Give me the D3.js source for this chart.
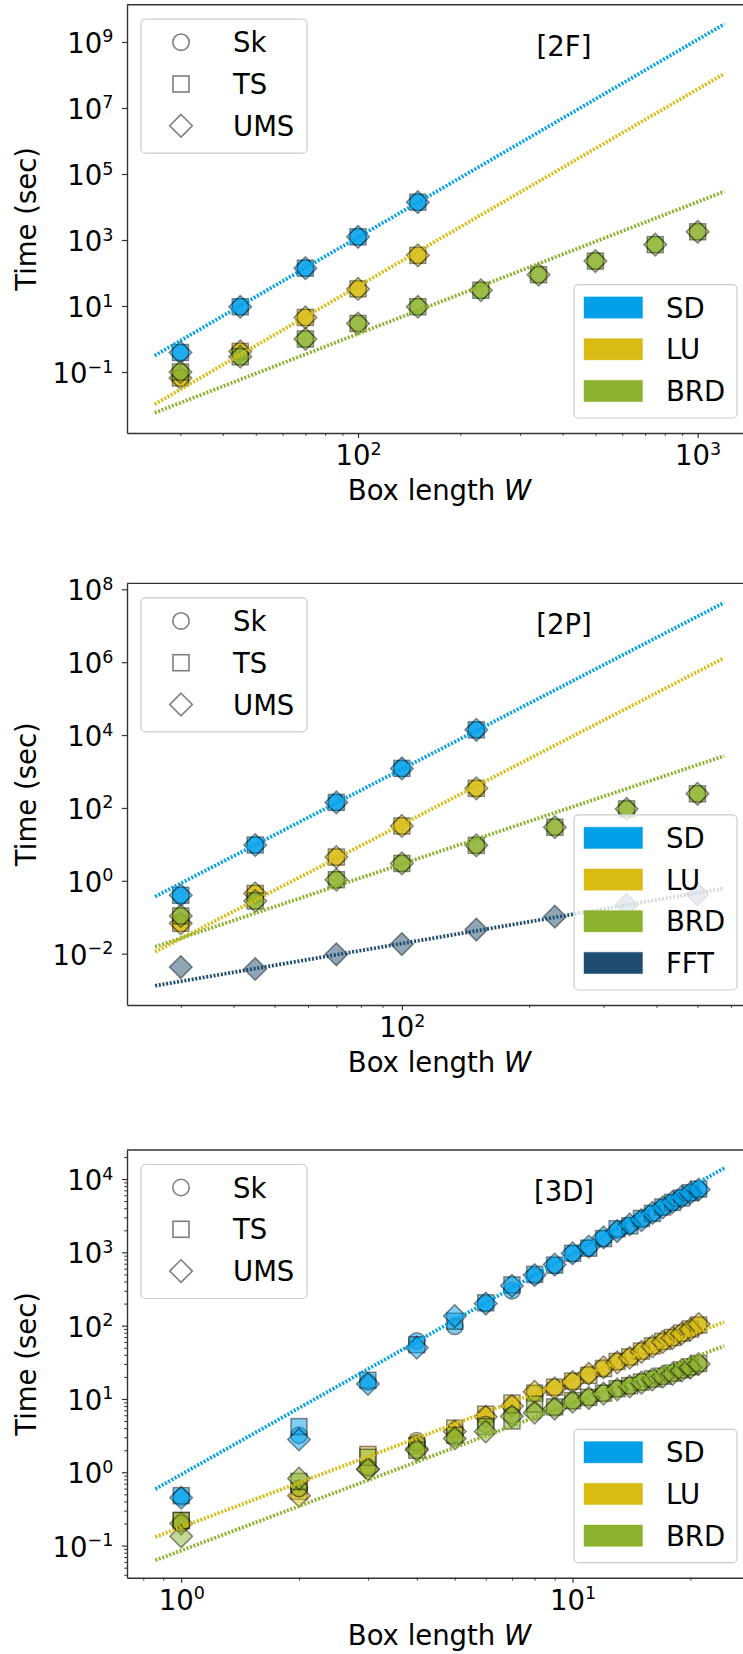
<!DOCTYPE html>
<html><head><meta charset="utf-8">
<script src="https://cdn.jsdelivr.net/npm/d3@7"></script>
<style>
body{margin:0;background:#fff;}
svg{display:block;font-family:"DejaVu Sans",sans-serif;}
</style>
</head><body>
<svg id="chart" width="743" height="1654"></svg>
<script>
// ---------------- DATA ----------------
const methodNames = ["SD", "LU", "BRD", "FFT"];
const methodColors = ["#00A0E9", "#D8BC14", "#8DB22E", "#1F4D70"];
const markerNames = ["Sk", "TS", "UMS"];

// Panel [2F]
const w2F = [30, 45, 70, 100, 150, 230, 340, 500, 750, 1000];
const sd2F = [0.39, 9.5, 140, 1250, 14000];
const lu2F = [0.066, 0.42, 4.5, 33, 343];
const brd2F = [0.1, 0.29, 1.0, 2.95, 9.5, 30, 89, 230, 725, 1775];
const fitW2F = [25.2, 1197];
const fitSD2F = [0.314, 3.47e9];
const fitLU2F = [0.0105, 1.09e8];
const fitBRD2F = [0.0058, 29400];
const xMajor2F = [100, 1000];
const xMinor2F = [30, 40, 50, 60, 70, 80, 90, 200, 300, 400, 500, 600, 700, 800, 900];
const yMajor2F = [1e-1, 1e1, 1e3, 1e5, 1e7, 1e9];

// Panel [2P]
const w2P = [30, 45, 70, 100, 150, 230, 340, 500];
const sd2P = [0.40, 9.6, 142, 1216, 13900];
const lu2P = [0.068, 0.45, 4.5, 32, 345];
const brd2P = [0.109, 0.28, 1.07, 3.0, 9.4, 29.6, 94, 244];
const fft2P = [0.0043, 0.0038, 0.0096, 0.0184, 0.046, 0.104, 0.22, 0.43];
const fitW2P = [26.1, 578];
const fitSD2P = [0.37, 4.29e7];
const fitLU2P = [0.0112, 1.3e6];
const fitBRD2P = [0.0155, 2660];
const fitFFT2P = [0.00132, 0.62];
const xMajor2P = [100];
const xMinor2P = [30, 40, 50, 60, 70, 80, 90, 200, 300, 400, 500, 600];
const yMajor2P = [1e-2, 1e0, 1e2, 1e4, 1e6, 1e8];

// Panel [3D]
const w3D = [1, 2, 3, 4, 5, 6, 7, 8, 9, 10, 11, 12, 13, 14, 15, 16, 17, 18, 19, 20, 21];
const sd3DSk  = [0.46, 3.2, 17, 62, 98, 200, 300, 480, 660, 960, 1150, 1550, 2000, 2350, 2800, 3400, 4100, 4800, 5600, 6400, 7200];
const sd3DTS  = [0.48, 4.2, 18, 55, 115, 205, 360, 500, 670, 970, 1140, 1540, 2100, 2300, 2900, 3400, 4150, 4800, 5500, 6500, 7300];
const sd3DUMS = [0.45, 2.8, 16, 50, 135, 200, 350, 490, 680, 970, 1200, 1600, 1950, 2400, 2750, 3450, 4100, 4850, 5700, 6450, 7200];
const lu3DSk  = [0.21, 0.6, 1.2, 2.7, 3.8, 6.0, 8.4, 11.7, 14.3, 17.3, 21.6, 26.4, 32, 37, 44.7, 52.8, 60.3, 68.4, 78, 89, 101];
const lu3DTS  = [0.22, 0.55, 1.75, 2.3, 4.0, 6.2, 8.8, 12, 14.5, 17.5, 21, 26, 32.5, 37.5, 45, 53, 61, 69, 79, 90, 102];
const lu3DUMS = [0.2, 0.48, 1.1, 2.1, 3.6, 5.7, 8.0, 12.5, 14, 17, 22, 27, 31.5, 36.5, 44, 52, 60, 68, 78, 89, 105];
const brd3DSk  = [0.2, 0.6, 1.15, 2.5, 3.0, 4.5, 6.0, 6.7, 7.6, 9.35, 10.5, 12, 13.8, 15, 16.9, 18.7, 20.5, 22.4, 24.7, 27, 30.2];
const brd3DTS  = [0.22, 0.75, 1.6, 2.0, 3.2, 4.2, 5.0, 8.5, 7.8, 9.5, 10.5, 12, 13.8, 15.2, 17, 18.8, 20.5, 22.5, 25, 27.5, 30.5];
const brd3DUMS = [0.134, 0.82, 1.1, 2.0, 2.9, 3.6, 5.8, 6.5, 7.4, 9.2, 10.3, 11.8, 13.5, 14.8, 16.7, 18.5, 20.2, 22, 24.5, 26.8, 30];
const fitW3D = [0.859, 24.4];
const fitSD3D = [0.59, 14100];
const fitLU3D = [0.131, 112];
const fitBRD3D = [0.063, 52.8];
const xMajor3D = [1, 10];
const xMinor3D = [0.8, 0.9, 2, 3, 4, 5, 6, 7, 8, 9, 20];
const yMajor3D = [1e-1, 1e0, 1e1, 1e2, 1e3, 1e4];
const yMinor3D = [0.04, 0.05, 0.06, 0.07, 0.08, 0.09,
  0.2, 0.3, 0.4, 0.5, 0.6, 0.7, 0.8, 0.9,
  2, 3, 4, 5, 6, 7, 8, 9,
  20, 30, 40, 50, 60, 70, 80, 90,
  200, 300, 400, 500, 600, 700, 800, 900,
  2000, 3000, 4000, 5000, 6000, 7000, 8000, 9000, 20000];

const panelLabels = ["[2F]", "[2P]", "[3D]"];

// ---------------- DRAWING ----------------
const svg = d3.select("#chart");
svg.append("rect").attr("width", 743).attr("height", 1654).attr("fill", "#fff");

const FONT = 27.5, SUP = 17.5;
const AX_L = 127, AX_R = 752;
const SPINE = "#333";

function supLabel(sel, v) {
  const e = Math.round(Math.log10(v));
  sel.text(null);
  sel.append("tspan").text("10");
  sel.append("tspan").attr("font-size", SUP).attr("dy", -10.5).text(e < 0 ? "\u2212" + (-e) : String(e));
}

function drawMarker(g, type, cx, cy, fill, opts) {
  let el;
  if (type === 0) {
    el = g.append("circle").attr("cx", cx).attr("cy", cy).attr("r", 8.2);
  } else if (type === 1) {
    el = g.append("rect").attr("x", cx - 8).attr("y", cy - 8).attr("width", 16).attr("height", 16);
  } else {
    const h = 11.3;
    el = g.append("path").attr("d", `M${cx},${cy - h}L${cx + h},${cy}L${cx},${cy + h}L${cx - h},${cy}Z`);
  }
  if (opts === "legend") {
    el.attr("fill", "none").attr("stroke", "#7f7f7f").attr("stroke-width", 1.6);
  } else {
    el.attr("fill", fill).attr("fill-opacity", 0.5)
      .attr("stroke", "#000").attr("stroke-opacity", 0.45).attr("stroke-width", 1.5);
  }
  return el;
}

function drawPanel(cfg, idx) {
  const x = d3.scaleLog().domain(cfg.xDomain).range([AX_L, AX_R]);
  const y = d3.scaleLog().domain(cfg.yDomain).range([cfg.bottom, cfg.top]);
  const clipId = "clip" + idx;
  svg.append("clipPath").attr("id", clipId).append("rect")
    .attr("x", AX_L).attr("y", cfg.top).attr("width", AX_R - AX_L).attr("height", cfg.bottom - cfg.top);
  const plot = svg.append("g").attr("clip-path", `url(#${clipId})`);

  // scatter markers
  cfg.series.forEach(s => {
    const col = methodColors[s.m];
    s.markers.forEach((vals, t) => {
      if (!vals) return;
      vals.forEach((v, i) => {
        drawMarker(plot, t, x(s.x[i]), y(v), col);
      });
    });
  });

  // fit lines
  const line = d3.line();
  cfg.fits.forEach(f => {
    plot.append("path")
      .attr("d", line(f.x.map((xv, i) => [x(xv), y(f.y[i])])))
      .attr("fill", "none").attr("stroke", methodColors[f.m])
      .attr("stroke-width", 3.7).attr("stroke-dasharray", "2 1.7");
  });

  // axes: minor ticks
  if (cfg.xMinor) {
    svg.append("g").attr("transform", `translate(0,${cfg.bottom})`)
      .call(d3.axisBottom(x).tickValues(cfg.xMinor).tickSize(2.8).tickFormat(""))
      .call(g => g.select(".domain").remove())
      .call(g => g.selectAll("line").attr("stroke", SPINE).attr("stroke-width", 1));
  }
  if (cfg.yMinor) {
    svg.append("g").attr("transform", `translate(${AX_L},0)`)
      .call(d3.axisLeft(y).tickValues(cfg.yMinor).tickSize(2.8).tickFormat(""))
      .call(g => g.select(".domain").remove())
      .call(g => g.selectAll("line").attr("stroke", SPINE).attr("stroke-width", 1));
  }
  // major x
  const gx = svg.append("g").attr("transform", `translate(0,${cfg.bottom})`)
    .call(d3.axisBottom(x).tickValues(cfg.xMajor).tickSize(5).tickSizeOuter(0).tickPadding(8))
    .attr("font-size", null).attr("font-family", null);
  gx.select(".domain").attr("stroke", SPINE).attr("stroke-width", 1.4);
  gx.selectAll(".tick line").attr("stroke", SPINE).attr("stroke-width", 1.2);
  gx.selectAll(".tick text").attr("fill", "#000").attr("font-size", FONT)
    .attr("y", 32.3).attr("dy", null).each(function (d) { supLabel(d3.select(this), d); });
  // major y
  const gy = svg.append("g").attr("transform", `translate(${AX_L},0)`)
    .call(d3.axisLeft(y).tickValues(cfg.yMajor).tickSize(5).tickSizeOuter(0))
    .attr("font-size", null).attr("font-family", null);
  gy.select(".domain").attr("stroke", SPINE).attr("stroke-width", 1.4);
  gy.selectAll(".tick line").attr("stroke", SPINE).attr("stroke-width", 1.2);
  gy.selectAll(".tick text").attr("fill", "#000").attr("font-size", FONT)
    .attr("x", -13.7).attr("y", 10.5).attr("dy", null).each(function (d) { supLabel(d3.select(this), d); });
  // top spine
  svg.append("line").attr("x1", AX_L).attr("x2", AX_R).attr("y1", cfg.top).attr("y2", cfg.top)
    .attr("stroke", SPINE).attr("stroke-width", 1.4);

  // axis titles
  const xl = svg.append("text").attr("x", (AX_L + AX_R) / 2).attr("y", cfg.bottom + 67)
    .attr("text-anchor", "middle").attr("font-size", FONT).attr("fill", "#000");
  xl.append("tspan").text("Box length ");
  xl.append("tspan").attr("font-style", "italic").text("W");
  const cy = (cfg.top + cfg.bottom) / 2;
  svg.append("text").attr("transform", `translate(36,${cy}) rotate(-90)`)
    .attr("text-anchor", "middle").attr("font-size", FONT).attr("fill", "#000").text("Time (sec)");

  // panel label
  svg.append("text").attr("x", 564).attr("y", cfg.top + 51).attr("text-anchor", "middle")
    .attr("font-size", FONT).attr("fill", "#000").text(panelLabels[idx]);

  // marker legend (upper left)
  const l1x = AX_L + 14, l1y = cfg.top + 14.5;
  const lg1 = svg.append("g");
  lg1.append("rect").attr("x", l1x).attr("y", l1y).attr("width", 166).attr("height", 134)
    .attr("rx", 4.5).attr("fill", "#fff").attr("fill-opacity", 0.8)
    .attr("stroke", "#cccccc").attr("stroke-width", 1.2);
  markerNames.forEach((nm, i) => {
    const ry = l1y + 23 + i * 41.8;
    drawMarker(lg1, i, l1x + 40, ry, null, "legend");
    lg1.append("text").attr("x", l1x + 92).attr("y", ry + 10).attr("font-size", FONT)
      .attr("fill", "#000").text(nm);
  });

  // method legend (lower right)
  const n = cfg.legendMethods.length;
  const h2 = 23 + (n - 1) * 41.7 + 27;
  const l2r = AX_R - 15, l2b = cfg.bottom - 15;
  const l2x = l2r - 163, l2y = l2b - h2;
  const lg2 = svg.append("g");
  lg2.append("rect").attr("x", l2x).attr("y", l2y).attr("width", 163).attr("height", h2)
    .attr("rx", 4.5).attr("fill", "#fff").attr("fill-opacity", 0.8)
    .attr("stroke", "#cccccc").attr("stroke-width", 1.2);
  cfg.legendMethods.forEach((m, i) => {
    const ry = l2y + 23 + i * 41.7;
    lg2.append("rect").attr("x", l2x + 10).attr("y", ry - 10.7).attr("width", 58.5).attr("height", 21.3)
      .attr("fill", methodColors[m]).attr("stroke", methodColors[m]).attr("stroke-opacity", 0.4);
    lg2.append("text").attr("x", l2x + 92).attr("y", ry + 10).attr("font-size", FONT)
      .attr("fill", "#000").text(methodNames[m]);
  });
}

const panels = [
  {
    top: 4.7, bottom: 433,
    xDomain: [Math.pow(10, 1.3198), Math.pow(10, 3.160)],
    yDomain: [Math.pow(10, -2.848), Math.pow(10, 10.13)],
    xMajor: xMajor2F, xMinor: xMinor2F, yMajor: yMajor2F,
    series: [
      { m: 0, x: w2F, markers: [sd2F, sd2F, sd2F] },
      { m: 1, x: w2F, markers: [lu2F, lu2F, lu2F] },
      { m: 2, x: w2F, markers: [brd2F, brd2F, brd2F] }
    ],
    fits: [
      { m: 0, x: fitW2F, y: fitSD2F },
      { m: 1, x: fitW2F, y: fitLU2F },
      { m: 2, x: fitW2F, y: fitBRD2F }
    ],
    legendMethods: [0, 1, 2]
  },
  {
    top: 583.4, bottom: 1005,
    xDomain: [Math.pow(10, 1.35), Math.pow(10, 2.828)],
    yDomain: [Math.pow(10, -3.408), Math.pow(10, 8.162)],
    xMajor: xMajor2P, xMinor: xMinor2P, yMajor: yMajor2P,
    series: [
      { m: 0, x: w2P, markers: [sd2P, sd2P, sd2P] },
      { m: 1, x: w2P, markers: [lu2P, lu2P, lu2P] },
      { m: 2, x: w2P, markers: [brd2P, brd2P, brd2P] },
      { m: 3, x: w2P, markers: [null, null, fft2P] }
    ],
    fits: [
      { m: 0, x: fitW2P, y: fitSD2P },
      { m: 1, x: fitW2P, y: fitLU2P },
      { m: 2, x: fitW2P, y: fitBRD2P },
      { m: 3, x: fitW2P, y: fitFFT2P }
    ],
    legendMethods: [0, 1, 2, 3]
  },
  {
    top: 1150, bottom: 1577.7,
    xDomain: [Math.pow(10, -0.1385), Math.pow(10, 1.4585)],
    yDomain: [Math.pow(10, -1.438), Math.pow(10, 4.396)],
    xMajor: xMajor3D, xMinor: xMinor3D, yMajor: yMajor3D, yMinor: yMinor3D,
    series: [
      { m: 0, x: w3D, markers: [sd3DSk, sd3DTS, sd3DUMS] },
      { m: 1, x: w3D, markers: [lu3DSk, lu3DTS, lu3DUMS] },
      { m: 2, x: w3D, markers: [brd3DSk, brd3DTS, brd3DUMS] }
    ],
    fits: [
      { m: 0, x: fitW3D, y: fitSD3D },
      { m: 1, x: fitW3D, y: fitLU3D },
      { m: 2, x: fitW3D, y: fitBRD3D }
    ],
    legendMethods: [0, 1, 2]
  }
];

panels.forEach((p, i) => drawPanel(p, i));
</script>
</body></html>
